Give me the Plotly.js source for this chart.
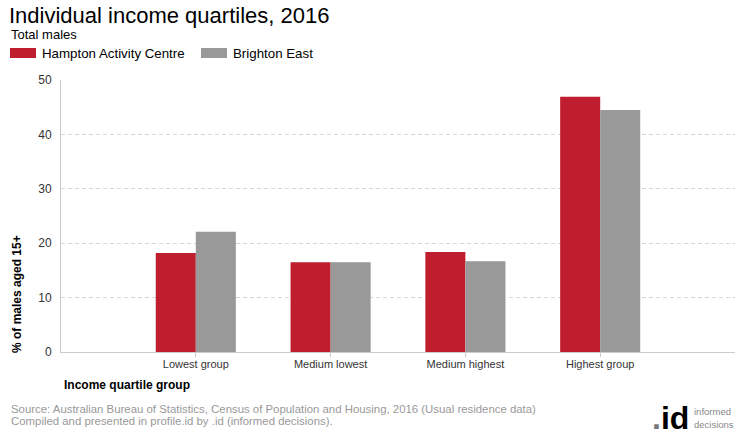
<!DOCTYPE html>
<html>
<head>
<meta charset="utf-8">
<script src="https://cdn.plot.ly/plotly-3.0.1.min.js"></script>
<style>html,body{margin:0;padding:0;background:#fff;}#chart{width:740px;height:440px;}</style>
</head>
<body>
<div id="chart"></div>
<script>
const categories = ["Lowest group", "Medium lowest", "Medium highest", "Highest group"];
const seriesNames = ["Hampton Activity Centre", "Brighton East"];
const hamptonValues = [18.2, 16.5, 18.4, 46.9];
const brightonValues = [22.1, 16.5, 16.7, 44.5];
const yTickValues = [0, 10, 20, 30, 40, 50];
const colors = ["#BE1E2D", "#999999"];

const FONT = "Liberation Sans, Arial, sans-serif";
const L = 61, R = 5, T = 80, B = 88, W = 740, H = 440;
const pw = W - L - R, ph = H - T - B;
const px = x => (x - L) / pw;
const py = y => (H - B - y) / ph;

const traces = [
  {type: "bar", name: seriesNames[0], x: categories, y: hamptonValues, marker: {color: colors[0]}, showlegend: false, hoverinfo: "y"},
  {type: "bar", name: seriesNames[1], x: categories, y: brightonValues, marker: {color: colors[1]}, showlegend: false, hoverinfo: "y"}
];

const annotations = [
  {text: "Total males", xref: "paper", yref: "paper", x: px(9), y: py(35), xanchor: "left", yanchor: "middle", showarrow: false, font: {family: FONT, size: 13, color: "#000"}},
  {text: seriesNames[0], xref: "paper", yref: "paper", x: px(40), y: py(54), xanchor: "left", yanchor: "middle", showarrow: false, font: {family: FONT, size: 13.3, color: "#000"}},
  {text: seriesNames[1], xref: "paper", yref: "paper", x: px(231), y: py(54), xanchor: "left", yanchor: "middle", showarrow: false, font: {family: FONT, size: 13.3, color: "#000"}},
  {text: "<b>% of males aged 15+</b>", xref: "paper", yref: "paper", x: px(17), y: py(294), textangle: -90, xanchor: "center", yanchor: "middle", showarrow: false, font: {family: FONT, size: 12, color: "#000"}},
  {text: "<b>Income quartile group</b>", xref: "paper", yref: "paper", x: px(62), y: py(385), xanchor: "left", yanchor: "middle", showarrow: false, font: {family: FONT, size: 12, color: "#000"}},
  {text: "Source: Australian Bureau of Statistics, Census of Population and Housing, 2016 (Usual residence data)", xref: "paper", yref: "paper", x: px(9), y: py(409), xanchor: "left", yanchor: "middle", showarrow: false, font: {family: FONT, size: 11.4, color: "#999"}},
  {text: "Compiled and presented in profile.id by .id (informed decisions).", xref: "paper", yref: "paper", x: px(9), y: py(421), xanchor: "left", yanchor: "middle", showarrow: false, font: {family: FONT, size: 11.4, color: "#999"}},
  {text: "<b><span style='color:#777'>.</span>id</b>", xref: "paper", yref: "paper", x: px(691), y: py(418), xanchor: "right", yanchor: "middle", showarrow: false, font: {family: FONT, size: 32, color: "#000"}},
  {text: "informed", xref: "paper", yref: "paper", x: px(692), y: py(411), xanchor: "left", yanchor: "middle", showarrow: false, font: {family: FONT, size: 9.5, color: "#888"}},
  {text: "decisions", xref: "paper", yref: "paper", x: px(692), y: py(424), xanchor: "left", yanchor: "middle", showarrow: false, font: {family: FONT, size: 9.5, color: "#888"}}
];

const shapes = [
  {type: "rect", xref: "paper", yref: "paper", x0: px(10), x1: px(36), y0: py(58), y1: py(48), fillcolor: colors[0], line: {width: 0}},
  {type: "rect", xref: "paper", yref: "paper", x0: px(201), x1: px(227), y0: py(58), y1: py(48), fillcolor: colors[1], line: {width: 0}}
];

const layout = {
  width: W, height: H,
  margin: {l: L, r: R, t: T, b: B, pad: 0},
  paper_bgcolor: "#fff", plot_bgcolor: "#fff",
  font: {family: FONT, color: "#333"},
  title: {text: "Individual income quartiles, 2016", xref: "container", yref: "container", x: 9 / W, xanchor: "left", y: 1 - 15 / H, yanchor: "middle", font: {family: FONT, size: 22, color: "#000"}},
  barmode: "group", bargap: 0.406, bargroupgap: 0,
  xaxis: {
    type: "category", range: [-1, 4], fixedrange: true,
    showline: true, linecolor: "#ccc", linewidth: 1,
    ticks: "outside", ticklen: 4, tickcolor: "#ccc", ticklabelstandoff: -2,
    tickfont: {family: FONT, size: 11, color: "#333"},
    showgrid: false, zeroline: false
  },
  yaxis: {
    range: [0, 50], tickvals: yTickValues, fixedrange: true,
    showline: true, linecolor: "#ccc", linewidth: 1,
    ticks: "", ticklabelstandoff: 6,
    tickfont: {family: FONT, size: 12, color: "#333"},
    showgrid: true, gridcolor: "#d8d8d8", griddash: "4px,3px", gridwidth: 1,
    zeroline: false
  },
  annotations: annotations,
  shapes: shapes,
  showlegend: false
};

Plotly.newPlot("chart", traces, layout, {displayModeBar: false, staticPlot: true});
</script>
</body>
</html>
